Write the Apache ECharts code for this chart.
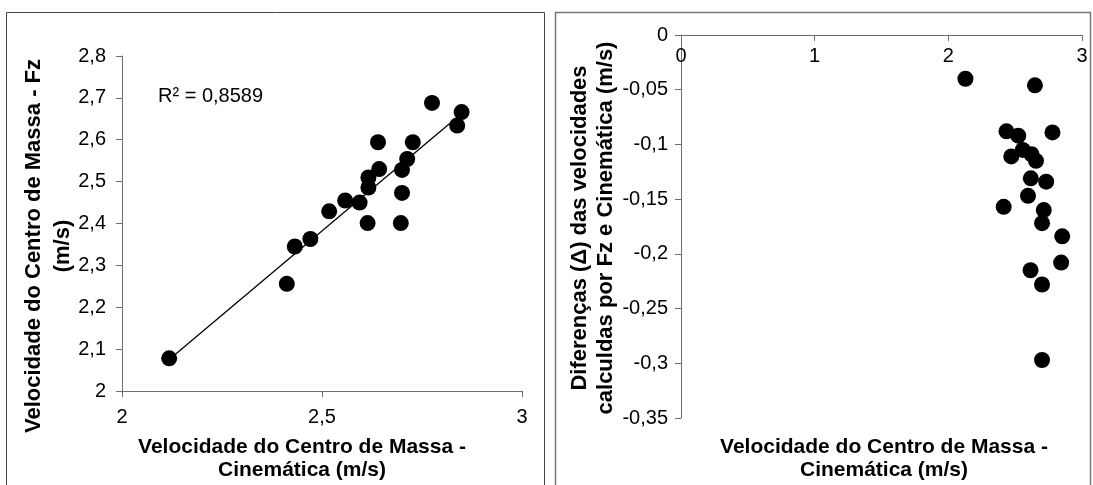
<!DOCTYPE html>
<html>
<head>
<meta charset="utf-8">
<script src="https://cdn.jsdelivr.net/npm/echarts@6/dist/echarts.min.js"></script>
<style>
html,body{margin:0;padding:0;background:#fff;}
#c{width:1093px;height:485px;}
</style>
</head>
<body>
<div id="c"></div>
<script>
// Left chart: kinematic velocity (x) vs Fz velocity (y)
const leftX = [2.118, 2.412, 2.432, 2.471, 2.518, 2.558, 2.594, 2.614, 2.616, 2.616, 2.640, 2.643, 2.697, 2.700, 2.700, 2.713, 2.727, 2.775, 2.838, 2.849];
const leftY = [2.078, 2.256, 2.345, 2.363, 2.429, 2.455, 2.450, 2.401, 2.486, 2.510, 2.594, 2.530, 2.401, 2.473, 2.528, 2.554, 2.594, 2.688, 2.634, 2.666];
// Right chart: kinematic velocity (x) vs difference (y)
const rightX = [2.128, 2.648, 2.435, 2.523, 2.779, 2.471, 2.557, 2.622, 2.656, 2.617, 2.732, 2.596, 2.414, 2.714, 2.701, 2.852, 2.844, 2.615, 2.701, 2.701];
const rightY = [-0.040, -0.046, -0.088, -0.092, -0.089, -0.111, -0.105, -0.109, -0.115, -0.131, -0.134, -0.147, -0.157, -0.160, -0.172, -0.184, -0.208, -0.215, -0.228, -0.297];
const r2Label = 'R² = 0,8589';
const leftXTitle = 'Velocidade do Centro de Massa -\nCinemática (m/s)';
const leftYTitle = 'Velocidade do Centro de Massa - Fz\n(m/s)';
const rightXTitle = 'Velocidade do Centro de Massa -\nCinemática (m/s)';
const rightYTitle = 'Diferenças (Δ) das velocidades\ncalculdas por Fz e Cinemática (m/s)';

const FONT = '"Liberation Sans", Arial, sans-serif';
const fmt = v => String(Number(v.toFixed(2))).replace('.', ',');

// least-squares linear trendline from the left data
const n = leftX.length;
const mx = leftX.reduce((a, b) => a + b, 0) / n;
const my = leftY.reduce((a, b) => a + b, 0) / n;
let sxy = 0, sxx = 0;
for (let i = 0; i < n; i++) { sxy += (leftX[i] - mx) * (leftY[i] - my); sxx += (leftX[i] - mx) ** 2; }
const slope = sxy / sxx, icpt = my - slope * mx;
const xmin = Math.min(...leftX), xmax = Math.max(...leftX);
const trend = [[xmin, icpt + slope * xmin], [xmax, icpt + slope * xmax]];

const axisLine = { lineStyle: { color: '#6e6e6e', width: 1 } };
const tickStyle = { lineStyle: { color: '#6e6e6e' }, length: 6 };
const labelStyle = { color: '#000', fontSize: 20, fontFamily: FONT, formatter: fmt };

const chart = echarts.init(document.getElementById('c'), null, { renderer: 'canvas' });
chart.setOption({
  animation: false,
  backgroundColor: '#fff',
  grid: [
    { left: 122, top: 56, width: 400, height: 335 },
    { left: 681, top: 35, width: 401, height: 383 }
  ],
  xAxis: [
    { gridIndex: 0, type: 'value', min: 2, max: 3, interval: 0.5, axisLine, axisTick: tickStyle,
      axisLabel: { ...labelStyle, margin: 16 }, splitLine: { show: false } },
    { gridIndex: 1, type: 'value', min: 0, max: 3, interval: 1, position: 'top', axisLine: { ...axisLine, onZero: false },
      axisTick: { ...tickStyle, inside: true }, axisLabel: { ...labelStyle, inside: true, margin: 11 }, splitLine: { show: false } }
  ],
  yAxis: [
    { gridIndex: 0, type: 'value', min: 2, max: 2.8, interval: 0.1, axisLine: { ...axisLine, show: true }, axisTick: tickStyle,
      axisLabel: { ...labelStyle, margin: 16 }, splitLine: { show: false } },
    { gridIndex: 1, type: 'value', min: -0.35, max: 0, interval: 0.05, axisLine: { ...axisLine, show: true }, axisTick: tickStyle,
      axisLabel: { ...labelStyle, margin: 13 }, splitLine: { show: false } }
  ],
  series: [
    { type: 'line', xAxisIndex: 0, yAxisIndex: 0, data: trend, symbol: 'none', lineStyle: { color: '#000', width: 1.3 }, z: 1 },
    { type: 'scatter', xAxisIndex: 0, yAxisIndex: 0, data: leftX.map((x, i) => [x, leftY[i]]), symbolSize: 16, itemStyle: { color: '#000', opacity: 1 }, z: 2 },
    { type: 'scatter', xAxisIndex: 1, yAxisIndex: 1, data: rightX.map((x, i) => [x, rightY[i]]), symbolSize: 16, itemStyle: { color: '#000', opacity: 1 }, z: 2 }
  ],
  graphic: [
    { type: 'rect', shape: { x: 6.5, y: 12.5, width: 538, height: 490 }, style: { fill: 'none', stroke: '#444', lineWidth: 1 }, z: -1 },
    { type: 'rect', shape: { x: 555.5, y: 12.5, width: 535, height: 490 }, style: { fill: 'none', stroke: '#777', lineWidth: 1.5 }, z: -1 },
    { type: 'text', x: 158, y: 96, style: { text: r2Label, font: '20px ' + FONT, fill: '#000', textVerticalAlign: 'middle' } },
    { type: 'text', x: 302, y: 459, style: { text: leftXTitle, font: 'bold 21px ' + FONT, fill: '#000', textAlign: 'center', textVerticalAlign: 'middle', lineHeight: 23 } },
    { type: 'text', x: 48, y: 246, rotation: Math.PI / 2, style: { text: leftYTitle, font: 'bold 22px ' + FONT, fill: '#000', textAlign: 'center', textVerticalAlign: 'middle', lineHeight: 29 } },
    { type: 'text', x: 884, y: 459, style: { text: rightXTitle, font: 'bold 21px ' + FONT, fill: '#000', textAlign: 'center', textVerticalAlign: 'middle', lineHeight: 23 } },
    { type: 'text', x: 593, y: 228, rotation: Math.PI / 2, style: { text: rightYTitle, font: 'bold 22px ' + FONT, fill: '#000', textAlign: 'center', textVerticalAlign: 'middle', lineHeight: 26 } }
  ]
});
</script>
</body>
</html>
